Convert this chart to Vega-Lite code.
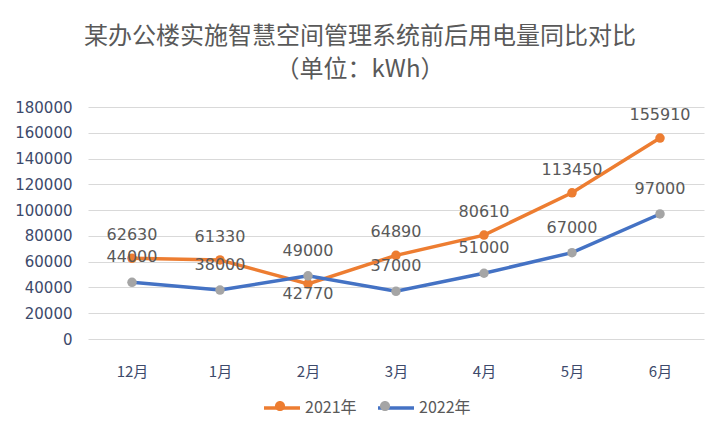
{
  "$schema": "https://vega.github.io/schema/vega-lite/v6.json",
  "width": 616,
  "height": 232,
  "autosize": {"type": "none"},
  "padding": {"left": 88, "top": 107, "right": 11, "bottom": 102},
  "background": "white",
  "config": {"font": "Noto Sans CJK SC", "view": {"stroke": null}},
  "title": {
    "text": ["某办公楼实施智慧空间管理系统前后用电量同比对比", "（单位：kWh）"],
    "fontSize": 24,
    "fontWeight": "normal",
    "color": "#595959",
    "lineHeight": 33,
    "anchor": "middle",
    "frame": "group",
    "dx": -36,
    "offset": 18
  },
  "data": {
    "values": [
      {"month": "12月", "year": "2021年", "value": 62630},
      {"month": "1月", "year": "2021年", "value": 61330},
      {"month": "2月", "year": "2021年", "value": 42770},
      {"month": "3月", "year": "2021年", "value": 64890},
      {"month": "4月", "year": "2021年", "value": 80610},
      {"month": "5月", "year": "2021年", "value": 113450},
      {"month": "6月", "year": "2021年", "value": 155910},
      {"month": "12月", "year": "2022年", "value": 44000},
      {"month": "1月", "year": "2022年", "value": 38000},
      {"month": "2月", "year": "2022年", "value": 49000},
      {"month": "3月", "year": "2022年", "value": 37000},
      {"month": "4月", "year": "2022年", "value": 51000},
      {"month": "5月", "year": "2022年", "value": 67000},
      {"month": "6月", "year": "2022年", "value": 97000}
    ]
  },
  "encoding": {
    "x": {
      "field": "month",
      "type": "ordinal",
      "sort": ["12月", "1月", "2月", "3月", "4月", "5月", "6月"],
      "scale": {"type": "point", "padding": 0.5},
      "axis": {
        "title": null,
        "labelAngle": 0,
        "domain": false,
        "ticks": false,
        "grid": false,
        "labelPadding": 25,
        "labelFontSize": 15,
        "labelColor": "#3d4a6b"
      }
    },
    "y": {
      "field": "value",
      "type": "quantitative",
      "scale": {"domain": [0, 180000], "nice": false},
      "axis": {
        "title": null,
        "values": [0, 20000, 40000, 60000, 80000, 100000, 120000, 140000, 160000, 180000],
        "format": "d",
        "domain": false,
        "ticks": false,
        "gridColor": "#d9d9d9",
        "labelColor": "#3d4a6b",
        "labelFont": "DejaVu Sans",
        "labelFontSize": 15,
        "labelPadding": 16
      }
    }
  },
  "layer": [
    {
      "mark": {"type": "line", "strokeWidth": 3.5},
      "encoding": {
        "stroke": {
          "field": "year",
          "type": "nominal",
          "scale": {"domain": ["2021年", "2022年"], "range": ["#ed7d31", "#4472c4"]},
          "legend": {
            "title": null,
            "orient": "none",
            "legendX": 174,
            "legendY": 281,
            "direction": "horizontal",
            "padding": 0,
            "symbolType": "stroke",
            "symbolSize": 1296,
            "symbolStrokeWidth": 3.5,
            "labelFontSize": 16,
            "labelColor": "#595959",
            "labelOffset": 3,
            "columnPadding": 14
          }
        }
      }
    },
    {
      "mark": {"type": "point", "filled": true, "size": 90, "opacity": 1},
      "encoding": {
        "fill": {
          "field": "year",
          "type": "nominal",
          "scale": {"range": ["#ed7d31", "#a5a5a5"]},
          "legend": {
            "title": null,
            "orient": "none",
            "legendX": 174,
            "legendY": 281,
            "direction": "horizontal",
            "padding": 0,
            "symbolType": "M0.28,0A0.28,0.28,0,1,1,-0.28,0A0.28,0.28,0,1,1,0.28,0Z",
            "symbolSize": 1296,
            "symbolStrokeWidth": 0,
            "symbolOpacity": 1,
            "labelExpr": "''",
            "labelFontSize": 16,
            "labelOffset": 3,
            "columnPadding": 66
          }
        }
      }
    },
    {
      "transform": [{"filter": "datum.year === '2021年' && datum.month !== '2月'"}],
      "mark": {"type": "text", "dy": -23, "fontSize": 16, "font": "DejaVu Sans", "color": "#595959"},
      "encoding": {"text": {"field": "value", "type": "quantitative", "format": "d"}}
    },
    {
      "transform": [{"filter": "datum.year === '2021年' && datum.month === '2月'"}],
      "mark": {"type": "text", "dy": 10, "fontSize": 16, "font": "DejaVu Sans", "color": "#595959"},
      "encoding": {"text": {"field": "value", "type": "quantitative", "format": "d"}}
    },
    {
      "transform": [{"filter": "datum.year === '2022年'"}],
      "mark": {"type": "text", "dy": -25, "fontSize": 16, "font": "DejaVu Sans", "color": "#595959"},
      "encoding": {"text": {"field": "value", "type": "quantitative", "format": "d"}}
    }
  ]
}
